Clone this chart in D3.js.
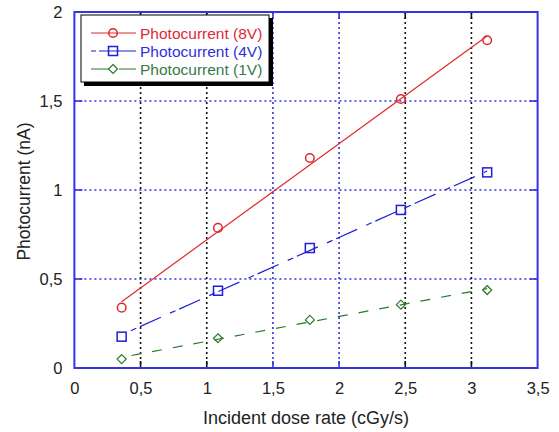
<!DOCTYPE html>
<html>
<head>
<meta charset="utf-8">
<script src="https://cdn.jsdelivr.net/npm/d3@7"></script>
<style>
  html, body { margin: 0; padding: 0; background: #ffffff; }
  svg { display: block; font-family: Arial, "Liberation Sans", sans-serif; }
</style>
</head>
<body>
<svg id="chart" width="559" height="432"></svg>
<script>
// Dose rate (cGy/s) for each measurement
const doseRate = [0.357, 1.085, 1.779, 2.467, 3.119];
// Photocurrent (nA) at three bias voltages
const current8V = [0.339, 0.787, 1.180, 1.511, 1.841];
const current4V = [0.176, 0.434, 0.674, 0.888, 1.099];
const current1V = [0.050, 0.167, 0.270, 0.356, 0.438];
const seriesNames = ["Photocurrent (8V)", "Photocurrent (4V)", "Photocurrent (1V)"];
const xTicks = [0, 0.5, 1, 1.5, 2, 2.5, 3, 3.5];
const yTicks = [0, 0.5, 1, 1.5, 2];

const svg = d3.select("#chart");
const plotLeft = 74.4, plotRight = 537.6, plotTop = 12, plotBottom = 368;

const x = d3.scaleLinear().domain([0, 3.5]).range([plotLeft, plotRight]);
const y = d3.scaleLinear().domain([0, 2]).range([plotBottom, plotTop]);
const fmt = d => String(d).replace(".", ",");

const frameBlue = "#3434e6";
const series = [
  { name: seriesNames[0], values: current8V, color: "#e0282a", text: "#e0283a", marker: "circle", dash: null },
  { name: seriesNames[1], values: current4V, color: "#1f1fd8", text: "#3030d8", marker: "square", dash: "6,4,23,10", offset: 33 },
  { name: seriesNames[2], values: current1V, color: "#2a7a2a", text: "#3a7a4a", marker: "diamond", dash: "10,11", offset: 11 }
];

// plot background
svg.append("rect").attr("x", plotLeft).attr("y", plotTop)
  .attr("width", plotRight - plotLeft).attr("height", plotBottom - plotTop).attr("fill", "#ffffff");

// horizontal grid (dotted blue) with solid ticks at both borders
const grid = svg.append("g");
yTicks.slice(1, -1).forEach(v => {
  grid.append("line").attr("x1", plotLeft).attr("x2", plotRight).attr("y1", y(v)).attr("y2", y(v))
    .attr("stroke", frameBlue).attr("stroke-width", 1.6).attr("stroke-dasharray", "2,3");
  [[plotLeft, plotLeft + 8], [plotRight - 8, plotRight]].forEach(([a, b]) =>
    grid.append("line").attr("x1", a).attr("x2", b).attr("y1", y(v)).attr("y2", y(v))
      .attr("stroke", frameBlue).attr("stroke-width", 1.6));
});
// vertical grid: black dotted, blue at 1,5 and 2
xTicks.slice(1, -1).forEach(v => {
  const c = (v === 1.5 || v === 2) ? frameBlue : "#111111";
  grid.append("line").attr("x1", x(v)).attr("x2", x(v)).attr("y1", plotTop).attr("y2", plotBottom)
    .attr("stroke", c).attr("stroke-width", 1.6).attr("stroke-dasharray", "2,3");
  [[plotTop, plotTop + 7], [plotBottom - 7, plotBottom]].forEach(([a, b]) =>
    grid.append("line").attr("x1", x(v)).attr("x2", x(v)).attr("y1", a).attr("y2", b)
      .attr("stroke", c).attr("stroke-width", 1.6));
});

// frame
svg.append("rect").attr("x", plotLeft).attr("y", plotTop)
  .attr("width", plotRight - plotLeft).attr("height", plotBottom - plotTop)
  .attr("fill", "none").attr("stroke", frameBlue).attr("stroke-width", 2);

// tick labels via d3 axes (domain and tick lines hidden)
const xAxis = svg.append("g").attr("transform", `translate(0,${plotBottom})`)
  .call(d3.axisBottom(x).tickValues(xTicks).tickFormat(fmt).tickSize(0).tickPadding(14));
const yAxis = svg.append("g").attr("transform", `translate(${plotLeft},0)`)
  .call(d3.axisLeft(y).tickValues(yTicks).tickFormat(fmt).tickSize(0).tickPadding(12));
[xAxis, yAxis].forEach(g => {
  g.select(".domain").remove();
  g.selectAll("text").attr("font-size", 16.5).attr("fill", "#222").attr("font-family", "Arial, 'Liberation Sans', sans-serif");
});

svg.append("text").attr("x", 306).attr("y", 424).attr("text-anchor", "middle")
  .attr("font-size", 18).attr("fill", "#222").text("Incident dose rate (cGy/s)");
svg.append("text").attr("transform", "translate(30,191.5) rotate(-90)").attr("text-anchor", "middle")
  .attr("font-size", 17.5).attr("fill", "#222").text("Photocurrent (nA)");

// least-squares fit of each series
function fit(xs, ys) {
  const mx = d3.mean(xs), my = d3.mean(ys);
  const sxy = d3.sum(xs, (v, i) => (v - mx) * (ys[i] - my));
  const sxx = d3.sum(xs, v => (v - mx) * (v - mx));
  const b = sxy / sxx;
  return { slope: b, intercept: my - b * mx };
}

function drawMarker(g, type, cx, cy, color) {
  if (type === "circle") {
    g.append("circle").attr("cx", cx).attr("cy", cy).attr("r", 4.3)
      .attr("fill", "none").attr("stroke", color).attr("stroke-width", 1.5);
  } else if (type === "square") {
    g.append("rect").attr("x", cx - 4.5).attr("y", cy - 4.5).attr("width", 9).attr("height", 9)
      .attr("fill", "none").attr("stroke", color).attr("stroke-width", 1.5);
  } else {
    g.append("path").attr("d", `M${cx},${cy - 4.5}L${cx + 4.5},${cy}L${cx},${cy + 4.5}L${cx - 4.5},${cy}Z`)
      .attr("fill", "none").attr("stroke", color).attr("stroke-width", 1.2);
  }
}

const line = d3.line().x(d => x(d[0])).y(d => y(d[1]));
series.forEach(s => {
  const f = fit(doseRate, s.values);
  const x0 = d3.min(doseRate), x1 = d3.max(doseRate);
  const p = svg.append("path")
    .attr("d", line([[x0, f.intercept + f.slope * x0], [x1, f.intercept + f.slope * x1]]))
    .attr("fill", "none").attr("stroke", s.color).attr("stroke-width", 1.2);
  if (s.dash) p.attr("stroke-dasharray", s.dash).attr("stroke-dashoffset", s.offset);
  const g = svg.append("g");
  doseRate.forEach((d, i) => drawMarker(g, s.marker, x(d), y(s.values[i]), s.color));
});

// legend with drop shadow
const lg = svg.append("g");
lg.append("rect").attr("x", 84).attr("y", 18).attr("width", 189).attr("height", 68).attr("fill", "#000");
lg.append("rect").attr("x", 81).attr("y", 15).attr("width", 188).attr("height", 67)
  .attr("fill", "#ffffff").attr("stroke", "#000").attr("stroke-width", 1);
series.forEach((s, i) => {
  const yy = 33 + i * 18;
  const l = lg.append("line").attr("x1", 91).attr("x2", 136).attr("y1", yy).attr("y2", yy)
    .attr("stroke", s.color).attr("stroke-width", 1.2);
  if (i === 1) l.attr("stroke-dasharray", "5,3,40");
  if (i === 2) l.attr("stroke-dasharray", "18,10,20");
  drawMarker(lg, s.marker, 113, yy, s.color);
  lg.append("text").attr("x", 140).attr("y", yy + 5.5).attr("font-size", 15.5)
    .attr("fill", s.text).text(s.name);
});
</script>
</body>
</html>
